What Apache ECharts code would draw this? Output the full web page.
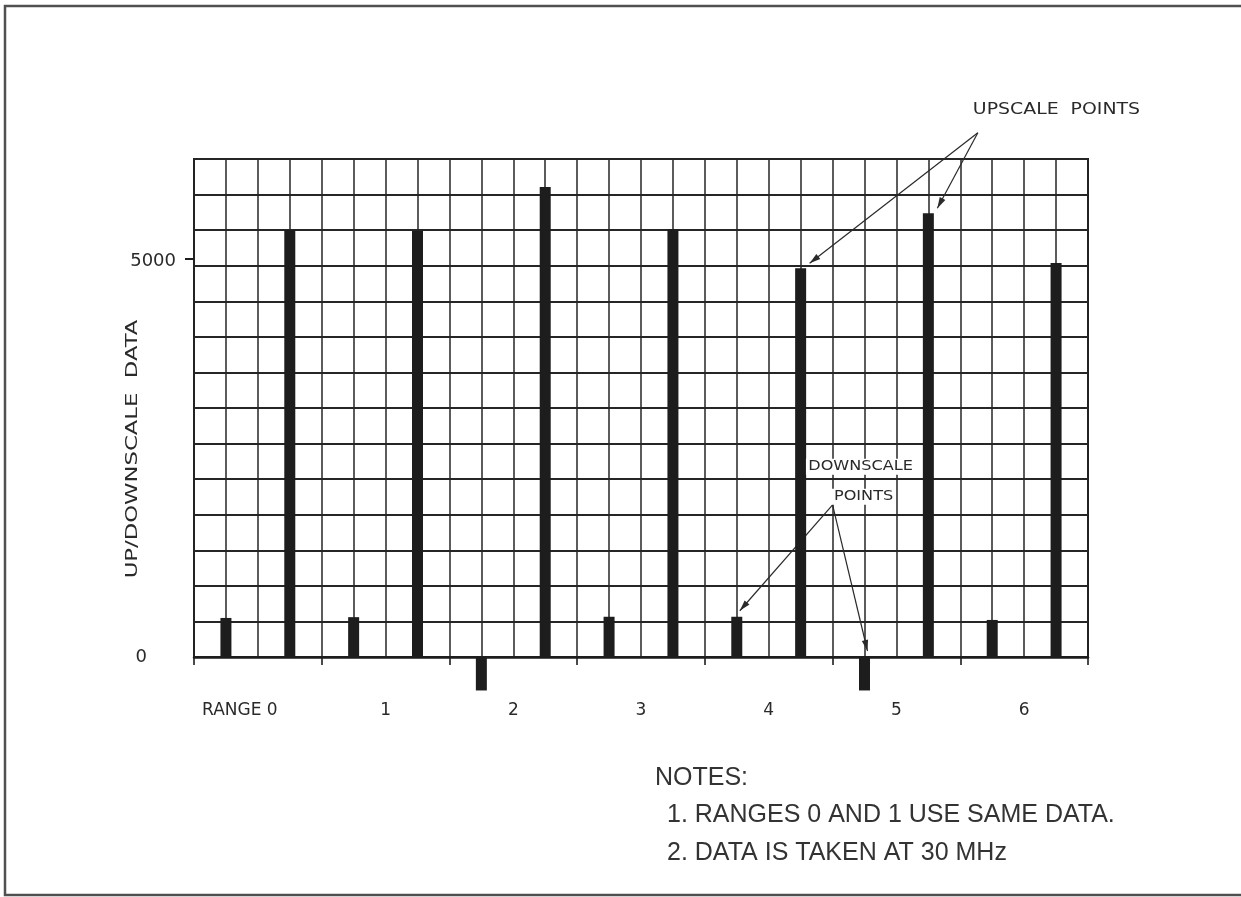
<!DOCTYPE html>
<html>
<head>
<meta charset="utf-8">
<script src="https://cdn.jsdelivr.net/npm/echarts@6/dist/echarts.min.js"></script>
<style>
  html, body { margin: 0; padding: 0; background: #fff; }
  #chart { width: 1241px; height: 897px; }
</style>
</head>
<body>
<div id="chart"></div>
<script>
// Two readings per range: the downscale point followed by the upscale point.
const slots = ['R0 down', 'R0 up', 'R1 down', 'R1 up', 'R2 down', 'R2 up', 'R3 down', 'R3 up',
               'R4 down', 'R4 up', 'R5 down', 'R5 up', 'R6 down', 'R6 up'];
const readings = [490, 5360, 500, 5345, -420, 5900, 505, 5370, 505, 4880, -420, 5570, 465, 4945];
const rangeLabels = ['RANGE 0', '1', '2', '3', '4', '5', '6'];
const yTickValues = [0, 5000];
const yMarkedTick = [5000];
const yMax = 6250;
const yDivisions = 14;
const xDivisions = 28;

// Callouts: the slots each arrow points at, and where the arrows meet (grid units)
const upscaleTargets = [9, 11];
const upscaleApex = [24.55, 6580];
const downscaleTargets = [8, 10];
const downscaleApex = [20.0, 1910];

const notes = ['NOTES:', '1. RANGES 0 AND 1 USE SAME DATA.', '2. DATA IS TAKEN AT 30 MHz'];
const yTitle = 'UP/DOWNSCALE  DATA';

const INK = '#1d1d1d';
const TEXT = '#2a2a2a';
const LETTERING = 'DejaVu Sans';

const chart = echarts.init(document.getElementById('chart'), null, { renderer: 'canvas' });

const option = {
  animation: false,
  backgroundColor: '#fff',
  grid: {
    left: 194, right: 153, top: 159, bottom: 240,
    show: true, borderColor: INK, borderWidth: 2, backgroundColor: 'transparent'
  },
  xAxis: [
    { // bar slots
      type: 'category', data: slots, show: false, position: 'bottom'
    },
    { // graph-paper vertical rules
      type: 'value', min: 0, max: xDivisions, interval: 1, position: 'bottom',
      axisLine: { show: false }, axisTick: { show: false }, axisLabel: { show: false },
      splitLine: { show: true, lineStyle: { color: '#262626', width: 1.5 } }
    },
    { // range axis along the zero line
      type: 'category', position: 'bottom',
      data: rangeLabels.map((r, i) => i === 0 ? { value: r, textStyle: { padding: [0, 36, 0, 0] } } : r),
      axisLine: { show: true, lineStyle: { color: INK, width: 2.5 } },
      axisTick: { show: true, length: 8, lineStyle: { color: INK, width: 1.6 } },
      axisLabel: { margin: 45, fontFamily: LETTERING, fontSize: 17, color: TEXT },
      splitLine: { show: false }
    }
  ],
  yAxis: [
    { // graph-paper horizontal rules
      type: 'value', min: 0, max: yMax, interval: yMax / yDivisions, position: 'left',
      axisLine: { show: false }, axisTick: { show: false }, axisLabel: { show: false },
      splitLine: { show: true, lineStyle: { color: '#262626', width: 1.8 } }
    },
    { // value labels
      type: 'value', min: 0, max: yMax, position: 'left',
      axisLine: { show: false },
      axisTick: { show: true, customValues: yMarkedTick, length: 9, lineStyle: { color: INK, width: 2 } },
      axisLabel: {
        customValues: yTickValues, margin: 18, color: TEXT,
        fontFamily: LETTERING, fontSize: 18,
        formatter: v => v === 0 ? '{z|0}' : '{v|' + v + '}',
        rich: {
          z: { fontFamily: LETTERING, fontSize: 18, color: TEXT, padding: [0, 29, 0, 0] },
          v: { fontFamily: LETTERING, fontSize: 18, color: TEXT, padding: [6, 0, 0, 0] }
        }
      },
      splitLine: { show: false }
    }
  ],
  series: [{
    type: 'bar',
    xAxisIndex: 0, yAxisIndex: 0,
    data: readings,
    barWidth: 11,
    clip: false,
    silent: true,
    itemStyle: { color: INK }
  }]
};

chart.setOption(option);

// ---- callouts, placed through the chart's own scales ----
const atSlot = (slot, value) => chart.convertToPixel({ xAxisIndex: 0, yAxisIndex: 0 }, [slot, value]);
const atGrid = (p) => chart.convertToPixel({ xAxisIndex: 1, yAxisIndex: 0 }, p);

function arrow(from, to) {
  const dx = to[0] - from[0], dy = to[1] - from[1];
  const len = Math.hypot(dx, dy), ux = dx / len, uy = dy / len;
  const headLen = 11, headHalf = 3.2;
  const bx = to[0] - ux * headLen, by = to[1] - uy * headLen;
  return [
    { type: 'line', silent: true,
      shape: { x1: from[0], y1: from[1], x2: to[0], y2: to[1] },
      style: { stroke: TEXT, lineWidth: 1.2 } },
    { type: 'polygon', silent: true,
      shape: { points: [[to[0], to[1]], [bx - uy * headHalf, by + ux * headHalf], [bx + uy * headHalf, by - ux * headHalf]] },
      style: { fill: TEXT } }
  ];
}

function lettering(text, x, y, size, stretch, align, extra) {
  return Object.assign({
    type: 'text', silent: true, x: x, y: y, scaleX: stretch,
    style: Object.assign({
      text: text, font: size + 'px "' + LETTERING + '"', fill: TEXT,
      textAlign: align, verticalAlign: 'middle', textVerticalAlign: 'middle'
    }, extra || {})
  });
}

const graphics = [];

// page frame
graphics.push({
  type: 'rect', silent: true, z: -1,
  shape: { x: 5, y: 6, width: 1242, height: 889 },
  style: { fill: null, stroke: '#505050', lineWidth: 2.5 }
});

// upscale callout
const upApex = atGrid(upscaleApex);
upscaleTargets.forEach(i => {
  const top = atSlot(i, Math.max(readings[i], 0));
  graphics.push(...arrow(upApex, [top[0] + 9, top[1] - 5]));
});
graphics.push(lettering('UPSCALE  POINTS', upApex[0] - 5, upApex[1] - 23, 16, 1.18, 'left'));

// downscale callout
const downApex = atGrid(downscaleApex);
downscaleTargets.forEach(i => {
  const top = atSlot(i, Math.max(readings[i], 0));
  graphics.push(...arrow(downApex, [top[0] + 3, top[1] - 6]));
});
const boxed = { backgroundColor: '#fff', padding: [1, 2] };
const downLabel1 = lettering('DOWNSCALE', downApex[0] + 28, downApex[1] - 38, 14, 1.15, 'center', boxed);
const downLabel2 = lettering('POINTS', downApex[0] + 31, downApex[1] - 8, 14, 1.15, 'center', boxed);
downLabel1.z = 10; downLabel2.z = 10;
graphics.push(downLabel1, downLabel2);

// vertical axis title
const title = lettering(yTitle, 133, 449, 16, 1.42, 'center');
title.rotation = Math.PI / 2;
graphics.push(title);

// notes block
const noteRows = [[655, 778], [667, 815], [667, 853]];
notes.forEach((t, k) => {
  graphics.push({
    type: 'text', silent: true,
    x: noteRows[k][0], y: noteRows[k][1],
    style: { text: t, font: '25px "Liberation Sans"', fill: '#333',
             textAlign: 'left', verticalAlign: 'middle', textVerticalAlign: 'middle' }
  });
});

chart.setOption({ graphic: graphics });
</script>
</body>
</html>
